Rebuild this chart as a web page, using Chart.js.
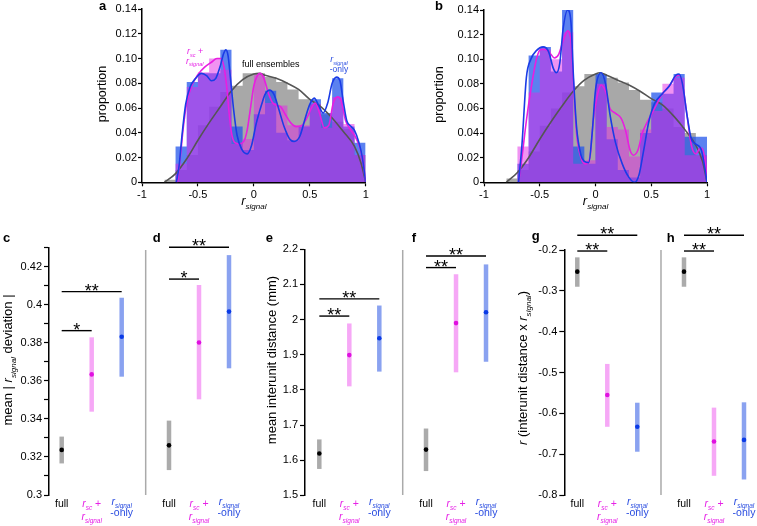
<!DOCTYPE html>
<html>
<head>
<meta charset="utf-8">
<script src="https://cdn.jsdelivr.net/npm/chart.js@4"></script>
<style>
html, body { margin: 0; padding: 0; background: #fff; }
#fig { position: relative; width: 757px; height: 526px; overflow: hidden; }
#fig canvas { position: absolute; }
</style>
</head>
<body>
<div id="fig">
  <canvas id="histA" width="378" height="220" style="left:0;top:0"></canvas>
  <canvas id="histB" width="379" height="220" style="left:378px;top:0"></canvas>
  <canvas id="dotCD" width="250" height="306" style="left:0;top:220px"></canvas>
  <canvas id="dotEF" width="250" height="306" style="left:250px;top:220px"></canvas>
  <canvas id="dotGH" width="257" height="306" style="left:500px;top:220px"></canvas>
</div>
<script>
// ===== DATA =====
// histogram bins (width 0.1), panels a and b
const binCenters = [-0.75, -0.65, -0.55, -0.45, -0.35, -0.25, -0.15, -0.05, 0.05, 0.15, 0.25, 0.35, 0.45, 0.55, 0.65, 0.75, 0.85, 0.95];
const binWidth = 0.1;

const aFullBins = [0.002, 0.010, 0.022, 0.046, 0.061, 0.073, 0.078, 0.088, 0.088, 0.085, 0.081, 0.075, 0.067, 0.063, 0.055, 0.049, 0.043, 0.022];
const aScBins   = [0, 0.015, 0.077, 0.089, 0.100, 0.091, 0.031, 0.035, 0.087, 0.064, 0.062, 0.046, 0.046, 0.063, 0.044, 0.069, 0.047, 0.022];
const aSigBins  = [0, 0.029, 0.081, 0.088, 0.088, 0.107, 0.045, 0.026, 0.055, 0.074, 0.040, 0.034, 0.045, 0.067, 0.056, 0.084, 0.045, 0.032];

const bFullBins = [0.003, 0.010, 0.025, 0.046, 0.060, 0.073, 0.078, 0.088, 0.088, 0.085, 0.081, 0.075, 0.067, 0.065, 0.060, 0.045, 0.040, 0.022];
const bScBins   = [0, 0.029, 0.073, 0.108, 0.100, 0.122, 0.015, 0.018, 0.080, 0.045, 0.043, 0.021, 0.043, 0.058, 0.080, 0.085, 0.022, 0.022];
const bSigBins  = [0, 0.015, 0.103, 0.110, 0.090, 0.140, 0.029, 0.015, 0.088, 0.035, 0.010, 0.004, 0.040, 0.073, 0.072, 0.088, 0.037, 0.037];

// smoothed density curves: [r_signal, proportion]
const aFullCurve = [[-0.8,0],[-0.7,0.007],[-0.6,0.019],[-0.5,0.034],[-0.4,0.048],[-0.3,0.061],[-0.2,0.074],[-0.1,0.083],[0,0.0875],[0.05,0.088],[0.1,0.0865],[0.2,0.084],[0.3,0.080],[0.4,0.075],[0.5,0.067],[0.6,0.061],[0.7,0.052],[0.8,0.041],[0.9,0.029],[0.96,0.015],[1,0]];
const aSigCurve = [[-0.693,0],[-0.67,0.012],[-0.64,0.04],[-0.61,0.063],[-0.57,0.077],[-0.52,0.084],[-0.47,0.088],[-0.42,0.086],[-0.38,0.082],[-0.34,0.084],[-0.3,0.094],[-0.27,0.104],[-0.25,0.107],[-0.23,0.102],[-0.21,0.085],[-0.18,0.058],[-0.15,0.038],[-0.11,0.027],[-0.06,0.023],[-0.02,0.03],[0.02,0.047],[0.07,0.063],[0.1,0.071],[0.14,0.0745],[0.18,0.071],[0.22,0.06],[0.27,0.045],[0.32,0.035],[0.36,0.033],[0.41,0.037],[0.46,0.052],[0.5,0.063],[0.54,0.068],[0.58,0.062],[0.62,0.056],[0.66,0.064],[0.7,0.08],[0.74,0.085],[0.77,0.082],[0.8,0.065],[0.83,0.05],[0.87,0.045],[0.9,0.042],[0.94,0.032],[0.97,0.02],[1,0]];
const aScCurve = [[-0.684,0],[-0.66,0.018],[-0.63,0.045],[-0.6,0.064],[-0.56,0.077],[-0.5,0.087],[-0.44,0.093],[-0.38,0.097],[-0.33,0.1],[-0.29,0.1],[-0.265,0.092],[-0.24,0.075],[-0.22,0.055],[-0.2,0.04],[-0.17,0.032],[-0.13,0.031],[-0.09,0.033],[-0.06,0.042],[-0.03,0.06],[0,0.078],[0.03,0.086],[0.055,0.088],[0.09,0.084],[0.13,0.072],[0.17,0.064],[0.21,0.062],[0.24,0.061],[0.28,0.055],[0.33,0.048],[0.38,0.045],[0.43,0.046],[0.48,0.053],[0.52,0.061],[0.55,0.064],[0.59,0.055],[0.63,0.044],[0.67,0.046],[0.71,0.064],[0.75,0.069],[0.78,0.066],[0.82,0.05],[0.86,0.043],[0.9,0.038],[0.94,0.03],[0.97,0.02],[1,0]];

const bFullCurve = [[-0.8,0],[-0.7,0.008],[-0.6,0.02],[-0.5,0.035],[-0.4,0.049],[-0.3,0.062],[-0.2,0.074],[-0.1,0.083],[0,0.088],[0.04,0.089],[0.1,0.087],[0.2,0.083],[0.3,0.079],[0.4,0.074],[0.5,0.068],[0.6,0.063],[0.7,0.054],[0.8,0.043],[0.9,0.03],[0.96,0.017],[1,0]];
const bSigCurve = [[-0.69,0],[-0.66,0.03],[-0.62,0.085],[-0.58,0.1],[-0.53,0.107],[-0.47,0.11],[-0.42,0.106],[-0.38,0.093],[-0.35,0.089],[-0.32,0.097],[-0.29,0.125],[-0.25,0.14],[-0.22,0.13],[-0.2,0.09],[-0.17,0.045],[-0.13,0.022],[-0.1,0.017],[-0.06,0.016],[-0.03,0.04],[0,0.075],[0.05,0.089],[0.09,0.08],[0.13,0.055],[0.18,0.032],[0.24,0.015],[0.3,0.004],[0.35,0],[0.39,0.006],[0.43,0.025],[0.48,0.05],[0.53,0.064],[0.6,0.072],[0.66,0.078],[0.72,0.087],[0.75,0.088],[0.78,0.08],[0.82,0.055],[0.86,0.035],[0.9,0.031],[0.95,0.026],[0.98,0.012],[1,0]];
const bScCurve = [[-0.69,0],[-0.66,0.02],[-0.62,0.05],[-0.58,0.075],[-0.53,0.1],[-0.49,0.108],[-0.45,0.108],[-0.4,0.104],[-0.37,0.101],[-0.33,0.104],[-0.29,0.115],[-0.25,0.123],[-0.22,0.115],[-0.2,0.085],[-0.17,0.04],[-0.13,0.02],[-0.09,0.015],[-0.05,0.02],[-0.02,0.05],[0.02,0.072],[0.05,0.079],[0.09,0.074],[0.13,0.06],[0.18,0.056],[0.23,0.052],[0.27,0.042],[0.31,0.026],[0.34,0.022],[0.38,0.026],[0.42,0.04],[0.47,0.05],[0.53,0.06],[0.6,0.072],[0.66,0.078],[0.72,0.086],[0.75,0.087],[0.78,0.08],[0.82,0.055],[0.86,0.03],[0.9,0.023],[0.94,0.028],[0.96,0.027],[0.99,0.012],[1,0]];

// dot panels: full, r_sc + r_signal, r_signal-only
const categories = ['full', 'rsc + rsignal', 'rsignal-only'];

const cMean = [0.3237, 0.3634, 0.3832];
const cLo   = [0.3166, 0.3438, 0.3622];
const cHi   = [0.3307, 0.3829, 0.4037];
const cSigTo = [1, 2];
const cSigY  = [0.3864, 0.4069];
const cSigMark = ['*', '**'];

const dMean = [0.3261, 0.3802, 0.3964];
const dLo   = [0.3131, 0.3503, 0.3666];
const dHi   = [0.3391, 0.4104, 0.4261];
const dSigTo = [1, 2];
const dSigY  = [0.4135, 0.4302];
const dSigMark = ['*', '**'];

const eMean = [1.619, 1.899, 1.947];
const eLo   = [1.575, 1.81, 1.852];
const eHi   = [1.659, 1.989, 2.04];
const eSigTo = [1, 2];
const eSigY  = [2.01, 2.059];
const eSigMark = ['**', '**'];

const fMean = [1.63, 1.99, 2.021];
const fLo   = [1.569, 1.85, 1.88];
const fHi   = [1.69, 2.129, 2.157];
const fSigTo = [1, 2];
const fSigY  = [2.148, 2.181];
const fSigMark = ['**', '**'];

const gMean = [-0.253, -0.555, -0.633];
const gLo   = [-0.29, -0.633, -0.694];
const gHi   = [-0.218, -0.479, -0.574];
const gSigTo = [1, 2];
const gSigY  = [-0.2025, -0.164];
const gSigMark = ['**', '**'];

const hMean = [-0.253, -0.669, -0.665];
const hLo   = [-0.29, -0.753, -0.762];
const hHi   = [-0.218, -0.586, -0.573];
const hSigTo = [1, 2];
const hSigY  = [-0.2025, -0.164];
const hSigMark = ['**', '**'];

// ===== STYLE =====
const FONT = '"Liberation Sans", Arial, Helvetica, sans-serif';
Chart.defaults.font.family = FONT;
Chart.defaults.color = '#000';

const FULL_BAR = 'rgba(110,110,110,0.6)';
const SC_BAR = 'rgba(225,40,230,0.5)';
const SIG_BAR = 'rgba(40,90,235,0.76)';
const FULL_LINE = '#555555';
const SC_LINE = '#e81ee0';
const SIG_LINE = '#1a3ce6';
const SC_TEXT = '#e622e6';
const SIG_TEXT = '#2a4de0';

const RANGE_COLORS = ['rgba(150,150,150,0.8)', 'rgba(240,110,240,0.6)', 'rgba(60,100,230,0.6)'];
const DOT_COLORS = ['#000000', '#e010e0', '#0a3ae6'];

const R_SIGNAL = [{ t: 'r', it: true }, { t: 'signal', it: true, sub: true }];
const R_SC_PLUS = [{ t: 'r', it: true }, { t: 'sc', it: true, sub: true }, { t: ' +' }];

// ===== TEXT HELPERS =====
function drawRich(ctx, parts, x, y, size, color, align) {
    const fontOf = p => (p.it ? 'italic ' : '') + (p.sub ? size * 0.62 : size) + 'px ' + FONT;
    ctx.save();
    ctx.fillStyle = color;
    ctx.textAlign = 'left';
    ctx.textBaseline = 'alphabetic';
    let width = 0;
    parts.forEach(p => { ctx.font = fontOf(p); width += ctx.measureText(p.t).width; });
    let cx = align === 'left' ? x : x - width / 2;
    parts.forEach(p => {
        ctx.font = fontOf(p);
        ctx.fillText(p.t, cx, y + (p.sub ? size * 0.32 : 0));
        cx += ctx.measureText(p.t).width;
    });
    ctx.restore();
}

function drawRotated(ctx, parts, x, y, size) {
    ctx.save();
    ctx.translate(x, y);
    ctx.rotate(-Math.PI / 2);
    drawRich(ctx, parts, 0, 0, size, '#000', 'center');
    ctx.restore();
}

function letter(ctx, t, x, y) {
    ctx.save();
    ctx.font = 'bold 13px ' + FONT;
    ctx.fillStyle = '#000';
    ctx.textAlign = 'left';
    ctx.fillText(t, x, y);
    ctx.restore();
}

function axisStyle(tickLength) {
    return {
        grid: { drawOnChartArea: false, offset: false, tickLength, color: '#000', tickWidth: 1.2 },
        border: { color: '#000', width: 1.5 }
    };
}

// ===== HISTOGRAMS =====
function histChart(id, o) {
    // each histogram is one filled step outline (left bin edges + closing right edge)
    const bars = (vals, color, order) => {
        const pts = binCenters.map((c, i) => ({ x: c - binWidth / 2, y: vals[i] }));
        pts.push({ x: binCenters[binCenters.length - 1] + binWidth / 2, y: vals[vals.length - 1] });
        return {
            data: pts, stepped: true, fill: 'origin', backgroundColor: color,
            borderColor: 'transparent', borderWidth: 0, pointRadius: 0, order
        };
    };
    const curve = (pts, color, order) => ({
        data: pts.map(p => ({ x: p[0], y: p[1] })), borderColor: color, borderWidth: 1.6,
        pointRadius: 0, fill: false, cubicInterpolationMode: 'monotone', order
    });

    new Chart(document.getElementById(id), {
        type: 'line',
        data: {
            datasets: [
                curve(o.sigCurve, SIG_LINE, 0),
                curve(o.scCurve, SC_LINE, 1),
                curve(o.fullCurve, FULL_LINE, 2),
                bars(o.scBins, SC_BAR, 3),
                bars(o.sigBins, SIG_BAR, 4),
                bars(o.fullBins, FULL_BAR, 5)
            ]
        },
        options: {
            responsive: false,
            animation: false,
            events: [],
            layout: { padding: { left: 0, top: o.area.top, right: o.w - o.area.right, bottom: 0 } },
            plugins: { legend: { display: false }, tooltip: { enabled: false } },
            scales: {
                x: {
                    type: 'linear', min: -1, max: 1, offset: false,
                    ...axisStyle(4),
                    ticks: { stepSize: 0.5, padding: 2, maxRotation: 0, font: { size: 11 }, color: '#000',
                        callback: v => String(Number(v.toFixed(1))) },
                    afterFit: s => { s.height = o.h - o.area.bottom; }
                },
                y: {
                    min: 0, max: 0.14,
                    ...axisStyle(4),
                    ticks: { stepSize: 0.02, padding: 1, font: { size: 11 }, color: '#000',
                        callback: v => Math.abs(v) < 1e-9 ? '0' : v.toFixed(2) },
                    afterFit: s => { s.width = o.area.left; }
                }
            }
        },
        plugins: [{ id: 'notes', afterDraw: c => o.notes(c.ctx, c) }]
    });
}

histChart('histA', {
    w: 378, h: 220, area: { left: 142, right: 365.7, top: 9, bottom: 182.3 },
    fullBins: aFullBins, scBins: aScBins, sigBins: aSigBins,
    fullCurve: aFullCurve, scCurve: aScCurve, sigCurve: aSigCurve,
    notes: (ctx, c) => {
        letter(ctx, 'a', 99, 10);
        drawRotated(ctx, [{ t: 'proportion' }], 106, 94, 12.5);
        drawRich(ctx, R_SIGNAL, (c.chartArea.left + c.chartArea.right) / 2, 205, 13, '#000', 'center');
        drawRich(ctx, [{ t: 'full ensembles' }], 270.7, 67, 9, '#000', 'center');
        drawRich(ctx, R_SC_PLUS, 187, 54, 9, SC_TEXT, 'left');
        drawRich(ctx, R_SIGNAL, 186, 63.5, 9, SC_TEXT, 'left');
        drawRich(ctx, R_SIGNAL, 339, 62, 9, SIG_TEXT, 'center');
        drawRich(ctx, [{ t: '-only' }], 339, 72, 8.5, SIG_TEXT, 'center');
    }
});

histChart('histB', {
    w: 379, h: 220, area: { left: 106, right: 329, top: 10, bottom: 182.3 },
    fullBins: bFullBins, scBins: bScBins, sigBins: bSigBins,
    fullCurve: bFullCurve, scCurve: bScCurve, sigCurve: bSigCurve,
    notes: (ctx, c) => {
        letter(ctx, 'b', 57, 10);
        drawRotated(ctx, [{ t: 'proportion' }], 65, 94.5, 12.5);
        drawRich(ctx, R_SIGNAL, (c.chartArea.left + c.chartArea.right) / 2, 205, 13, '#000', 'center');
    }
});

// ===== DOT PANELS =====
const catLabels = [
    [{ parts: [{ t: 'full' }], y: 286.7, color: '#000', size: 10.5 }],
    [{ parts: R_SC_PLUS, y: 286.5, color: SC_TEXT, size: 10.5 }, { parts: R_SIGNAL, y: 300, color: SC_TEXT, size: 10.5 }],
    [{ parts: R_SIGNAL, y: 285, color: SIG_TEXT, size: 10.5 }, { parts: [{ t: '-only' }], y: 296, color: SIG_TEXT, size: 10.5 }]
];

function dotChart(id, o) {
    const xMax = o.xMin + (o.area.right - o.area.left) / 30;
    const panels = [[o.left, 0], [o.right, o.offset]];
    const datasets = [];

    panels.forEach(([p, off]) => {
        p.mean.forEach((m, i) => {
            datasets.push({
                data: [{ x: i + off, y: p.lo[i] }, { x: i + off, y: p.hi[i] }],
                borderColor: RANGE_COLORS[i], borderWidth: 4.5, borderCapStyle: 'butt',
                pointRadius: 0, order: 2, clip: false
            });
            datasets.push({
                data: [{ x: i + off, y: m }], showLine: false,
                pointRadius: 2.3, pointBorderWidth: 0, pointBackgroundColor: DOT_COLORS[i], order: 0, clip: false
            });
        });
        p.sigTo.forEach((to, k) => {
            datasets.push({
                data: [{ x: off, y: p.sigY[k] }, { x: to + off, y: p.sigY[k] }],
                borderColor: '#000', borderWidth: 1.4, pointRadius: 0, order: 1, clip: false
            });
        });
    });

    new Chart(document.getElementById(id), {
        type: 'line',
        data: { datasets },
        options: {
            responsive: false,
            animation: false,
            events: [],
            layout: { padding: { left: 0, top: o.area.top, right: o.w - o.area.right, bottom: o.h - o.area.bottom } },
            plugins: { legend: { display: false }, tooltip: { enabled: false } },
            scales: {
                x: { type: 'linear', display: false, min: o.xMin, max: xMax },
                y: {
                    min: o.yMin, max: o.yMax,
                    ...axisStyle(5),
                    ticks: { stepSize: o.step, padding: 2, font: { size: 11 }, color: '#000', callback: o.label },
                    afterFit: s => { s.width = o.area.left; }
                }
            }
        },
        plugins: [{
            id: 'notes',
            afterDraw: c => {
                const ctx = c.ctx;
                const xs = c.scales.x, ys = c.scales.y;

                // separator between the two panels
                const sx = xs.getPixelForValue(o.sep);
                ctx.save();
                ctx.strokeStyle = '#aaaaaa';
                ctx.lineWidth = 1.5;
                ctx.beginPath();
                ctx.moveTo(sx, 30);
                ctx.lineTo(sx, 275);
                ctx.stroke();
                ctx.restore();

                panels.forEach(([p, off]) => {
                    // significance stars
                    p.sigTo.forEach((to, k) => {
                        const mx = (xs.getPixelForValue(off) + xs.getPixelForValue(to + off)) / 2;
                        ctx.save();
                        ctx.font = '18px ' + FONT;
                        ctx.fillStyle = '#000';
                        ctx.textAlign = 'center';
                        ctx.fillText(p.sigMark[k], mx, ys.getPixelForValue(p.sigY[k]) + 5);
                        ctx.restore();
                    });
                    // category labels
                    categories.forEach((name, i) => {
                        const cx = xs.getPixelForValue(i + off);
                        catLabels[i].forEach(l => drawRich(ctx, l.parts, cx, l.y, l.size, l.color, 'center'));
                    });
                });

                o.letters.forEach(([t, x, y]) => letter(ctx, t, x, y));
                drawRotated(ctx, o.title.parts, o.title.x, o.title.y, 13);
            }
        }]
    });
}

const hundredths = v => Math.round(v * 100) % 2 === 0 ? String(Number(v.toFixed(2))) : '';
const tenths = v => String(Number(v.toFixed(1)));

dotChart('dotCD', {
    w: 250, h: 306, area: { left: 49, right: 240, top: 27.7, bottom: 275 },
    xMin: -0.423, offset: 3.577, sep: 2.8,
    yMin: 0.3, yMax: 0.43, step: 0.01, label: hundredths,
    left: { mean: cMean, lo: cLo, hi: cHi, sigTo: cSigTo, sigY: cSigY, sigMark: cSigMark },
    right: { mean: dMean, lo: dLo, hi: dHi, sigTo: dSigTo, sigY: dSigY, sigMark: dSigMark },
    letters: [['c', 3, 22], ['d', 152.7, 22]],
    title: { parts: [{ t: 'mean | ' }, { t: 'r', it: true }, { t: 'signal', it: true, sub: true }, { t: ' deviation |' }], x: 11.5, y: 140 }
});

dotChart('dotEF', {
    w: 250, h: 306, area: { left: 55, right: 240, top: 29.3, bottom: 275.3 },
    xMin: -0.477, offset: 3.557, sep: 2.78,
    yMin: 1.5, yMax: 2.2, step: 0.1, label: tenths,
    left: { mean: eMean, lo: eLo, hi: eHi, sigTo: eSigTo, sigY: eSigY, sigMark: eSigMark },
    right: { mean: fMean, lo: fLo, hi: fHi, sigTo: fSigTo, sigY: fSigY, sigMark: fSigMark },
    letters: [['e', 15.7, 22], ['f', 161.7, 22]],
    title: { parts: [{ t: 'mean interunit distance (mm)' }], x: 26, y: 140 }
});

dotChart('dotGH', {
    w: 257, h: 306, area: { left: 64.3, right: 250, top: 30, bottom: 275 },
    xMin: -0.433, offset: 3.557, sep: 2.79,
    yMin: -0.8, yMax: -0.2, step: 0.1, label: tenths,
    left: { mean: gMean, lo: gLo, hi: gHi, sigTo: gSigTo, sigY: gSigY, sigMark: gSigMark },
    right: { mean: hMean, lo: hLo, hi: hHi, sigTo: hSigTo, sigY: hSigY, sigMark: hSigMark },
    letters: [['g', 31.7, 20], ['h', 166.7, 22]],
    title: { parts: [{ t: 'r', it: true }, { t: ' (interunit distance x ' }, { t: 'r', it: true }, { t: 'signal', it: true, sub: true }, { t: ')' }], x: 27, y: 148 }
});
</script>
</body>
</html>
